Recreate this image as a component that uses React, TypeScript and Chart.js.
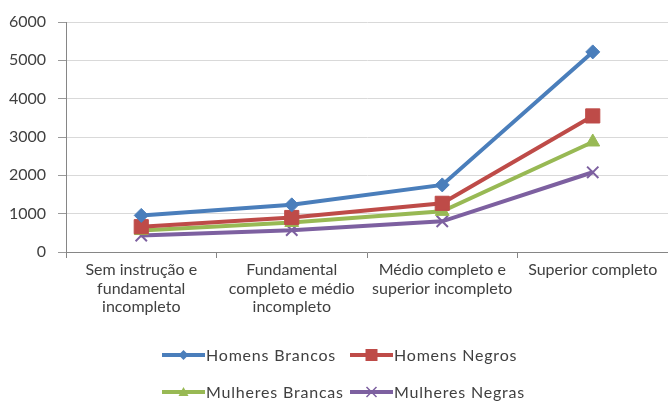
import React, { useEffect, useRef } from 'react';
import { Chart, registerables } from 'chart.js';

Chart.register(...registerables);

const categories: string[][] = [
  ['Sem instrução e', 'fundamental', 'incompleto'],
  ['Fundamental', 'completo e médio', 'incompleto'],
  ['Médio completo e', 'superior incompleto'],
  ['Superior completo'],
];
const seriesNames = ['Homens Brancos', 'Homens Negros', 'Mulheres Brancas', 'Mulheres Negras'];
const homensBrancos = [955, 1230, 1750, 5220];
const homensNegros = [660, 900, 1270, 3550];
const mulheresBrancas = [560, 770, 1060, 2870];
const mulheresNegras = [430, 570, 800, 2080];
const yMin = 0;
const yMax = 6000;
const yStep = 1000;

const colors = ['#4A7EBB', '#BE4B48', '#98B954', '#7D60A0'];
const markers = ['rectRot', 'rect', 'triangle', 'crossRot'];
const FONT = 'Lato, "Open Sans", sans-serif';
const TEXT = '#404040';

function drawMarker(ctx: CanvasRenderingContext2D, style: string, x: number, y: number, r: number, color: string) {
  ctx.save();
  ctx.fillStyle = color;
  ctx.strokeStyle = color;
  ctx.beginPath();
  if (style === 'rectRot') {
    ctx.moveTo(x, y - r);
    ctx.lineTo(x + r, y);
    ctx.lineTo(x, y + r);
    ctx.lineTo(x - r, y);
    ctx.closePath();
    ctx.fill();
  } else if (style === 'rect') {
    ctx.rect(x - r, y - r, 2 * r, 2 * r);
    ctx.fill();
  } else if (style === 'triangle') {
    ctx.moveTo(x, y - r);
    ctx.lineTo(x + r, y + r * 0.8);
    ctx.lineTo(x - r, y + r * 0.8);
    ctx.closePath();
    ctx.fill();
  } else {
    ctx.lineWidth = 1.5;
    ctx.moveTo(x - r, y - r);
    ctx.lineTo(x + r, y + r);
    ctx.moveTo(x + r, y - r);
    ctx.lineTo(x - r, y + r);
    ctx.stroke();
  }
  ctx.restore();
}

const legendPlugin = {
  id: 'customLegend',
  afterDraw(chart: any) {
    const ctx: CanvasRenderingContext2D = chart.ctx;
    const cols = [162, 350];
    const rows = [355, 392];
    chart.data.datasets.forEach((ds: any, i: number) => {
      const x = cols[i % 2];
      const y = rows[Math.floor(i / 2)];
      ctx.save();
      ctx.strokeStyle = ds.borderColor;
      ctx.lineWidth = 4;
      ctx.beginPath();
      ctx.moveTo(x, y);
      ctx.lineTo(x + 43, y);
      ctx.stroke();
      drawMarker(ctx, markers[i], x + 21.5, y, i === 1 ? 6 : 5, ds.borderColor);
      ctx.fillStyle = TEXT;
      ctx.font = '16px ' + FONT;
      (ctx as any).letterSpacing = '0.8px';
      ctx.textBaseline = 'middle';
      ctx.textAlign = 'left';
      ctx.fillText(ds.label, x + 44, y + 1);
      ctx.restore();
    });
  },
};

export default function App() {
  const ref = useRef<HTMLCanvasElement | null>(null);
  useEffect(() => {
    if (!ref.current) return;
    const series = [homensBrancos, homensNegros, mulheresBrancas, mulheresNegras];
    const chart = new Chart(ref.current, {
      type: 'line',
      data: {
        labels: categories,
        datasets: series.map((d, i) => ({
          label: seriesNames[i],
          data: d,
          borderColor: colors[i],
          backgroundColor: colors[i],
          borderWidth: 4,
          pointStyle: markers[i] as any,
          pointRadius: i === 0 ? 7 : i === 1 ? 10 : 8,
          pointBorderWidth: i === 3 ? 2 : 1,
          pointBackgroundColor: colors[i],
          pointBorderColor: colors[i],
          tension: 0,
        })),
      },
      options: {
        animation: false,
        responsive: true,
        maintainAspectRatio: false,
        layout: { autoPadding: false, padding: { top: 22, right: 0, left: 0, bottom: 0 } },
        plugins: {
          legend: { display: false },
          tooltip: { enabled: false },
        },
        scales: {
          x: {
            offset: true,
            afterFit: (s: any) => { s.height = 150; s.paddingRight = 0; s.paddingLeft = 0; },
            grid: {
              offset: true,
              drawOnChartArea: false,
              drawTicks: true,
              tickLength: 6,
              color: '#868686',
            },
            border: { display: true, color: '#868686' },
            ticks: {
              maxRotation: 0,
              autoSkip: false,
              padding: 3,
              color: TEXT,
              font: { family: FONT, size: 16, lineHeight: 1.15 },
            },
          },
          y: {
            min: yMin,
            max: yMax,
            afterFit: (s: any) => { s.width = 66; },
            ticks: {
              stepSize: yStep,
              padding: 12,
              color: TEXT,
              font: { family: FONT, size: 16 },
              callback: (v: any) => String(v),
            },
            grid: {
              color: '#d9d9d9',
              tickColor: '#9a9a9a',
              tickLength: 8,
            },
            border: { display: true, color: '#868686' },
          },
        },
      },
      plugins: [legendPlugin],
    });
    return () => chart.destroy();
  }, []);
  return (
    <div style={{ position: 'fixed', left: 0, top: 0, width: 668, height: 402, background: '#fff' }}>
      <canvas ref={ref} />
    </div>
  );
}
